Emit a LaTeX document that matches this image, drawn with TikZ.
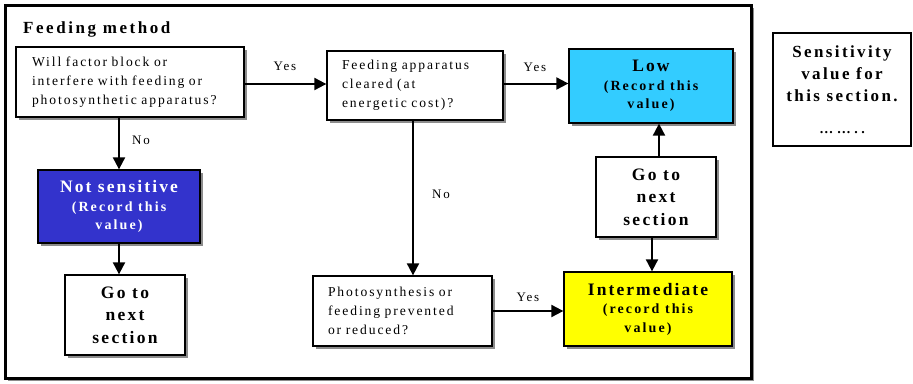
\documentclass[tikz,border=0pt]{standalone}
\usepackage{fontspec}
\setmainfont{Liberation Serif}[LetterSpace=18]
\newfontfamily\qfont{Liberation Serif}[LetterSpace=14, WordSpace=3.5]
\usetikzlibrary{arrows.meta,shadows}
\definecolor{nsblue}{HTML}{3333CC}
\definecolor{lowcyan}{HTML}{33CCFF}
\definecolor{midyellow}{HTML}{FFFF00}
\definecolor{shade}{HTML}{8C8C8C}
\newcommand{\headline}[1]{{\addfontfeature{LetterSpace=12}\fontsize{17.5}{18.5}\selectfont #1}}
\tikzset{
  box/.style={draw=black, line width=1.3pt, fill=white, rectangle,
    drop shadow={shadow xshift=3pt, shadow yshift=-3pt, fill=shade, opacity=1},
    inner sep=0pt},
  question/.style={box, align=left, font=\qfont\fontsize{13.6}{19}\selectfont},
  result/.style={box, align=center, font=\bfseries\addfontfeature{LetterSpace=15}\fontsize{14}{18.5}\selectfont},
  gobox/.style={box, align=center, font=\bfseries\addfontfeature{LetterSpace=13}\fontsize{17.5}{22.5}\selectfont},
  flow/.style={line width=2pt, -{Triangle[length=12pt,width=12pt]}},
  answer/.style={font=\qfont\fontsize{13}{15}\selectfont, inner sep=0pt},
}
\begin{document}
\begin{tikzpicture}[x=1pt, y=-1pt]
\useasboundingbox (0,0) rectangle (913,383);
% outer frame of the section
\node[draw=black, line width=2.6pt, fill=white, minimum width=746pt, minimum height=373pt,
  drop shadow={shadow xshift=2.5pt, shadow yshift=-2.5pt, fill=shade, opacity=1},
  inner sep=0pt] (frame) at (378.5,192) {};
\node[anchor=base west, font=\bfseries\addfontfeature{LetterSpace=15}\fontsize{17}{19}\selectfont, inner sep=0pt] (title) at (23,33) {Feeding method};

% question boxes
\node[question, minimum width=228pt, minimum height=70pt, text width=196pt] (q1) at (130,82)
  {Will factor block or\\ interfere with feeding or\\ photosynthetic apparatus?};
\node[question, minimum width=176pt, minimum height=69pt, text width=146pt] (q2) at (415,85.5)
  {Feeding apparatus\\ cleared (at\\ energetic cost)?};
\node[question, minimum width=179pt, minimum height=70pt, text width=149pt] (q3) at (402.5,311)
  {Photosynthesis or\\ feeding prevented\\ or reduced?};

% result boxes
\node[result, fill=nsblue, text=white, minimum width=162pt, minimum height=73pt] (ns) at (119,206.5)
  {\headline{Not sensitive}\\ (Record this\\ value)};
\node[result, fill=lowcyan, minimum width=164pt, minimum height=74pt] (low) at (651,86)
  {\headline{Low}\\ (Record this\\ value)};
\node[result, fill=midyellow, minimum width=168pt, minimum height=74pt] (mid) at (648,309)
  {\headline{Intermediate}\\ (record this\\ value)};

% exits
\node[gobox, minimum width=120pt, minimum height=80pt] (goL) at (125,315) {Go to\\ next\\ section};
\node[gobox, minimum width=120pt, minimum height=80pt] (goR) at (656,197) {Go to\\ next\\ section};

% score box beside the frame
\node[draw=black, line width=1.3pt, fill=white, minimum width=138pt, minimum height=113pt,
  inner sep=0pt, align=center, font=\bfseries\addfontfeature{LetterSpace=14}\fontsize{17}{22}\selectfont] (score) at (842,89.5)
  {Sensitivity\\ value for\\ this section.\\[10pt] {\addfontfeature{LetterSpace=25}\fontsize{14}{14}\selectfont ……..}};

% connectors
\draw[flow] ([yshift=-2pt]q1.east) -- ([yshift=-2pt]q1.east -| q2.west);
\draw[flow] ([yshift=2pt]q2.east) -- ([yshift=2pt]q2.east -| low.west);
\draw[flow] (q1.south -| ns.north) -- (ns.north);
\draw[flow] (ns.south) -- (ns.south |- goL.north);
\draw[flow] ([xshift=-2pt]q2.south) -- ([xshift=-2pt]q2.south |- q3.north);
\draw[flow] (q3.east) -- (q3.east -| mid.west);
\draw[flow] ([xshift=3pt]goR.north) -- ([xshift=3pt]goR.north |- low.south);
\draw[flow] ([xshift=-4pt]goR.south) -- ([xshift=-4pt]goR.south |- mid.north);

% answers on the connectors
\node[answer] (yes1) at (285,66) {Yes};
\node[answer] (yes2) at (535,67) {Yes};
\node[answer] (yes3) at (528,297) {Yes};
\node[answer] (no1) at (141,140) {No};
\node[answer] (no2) at (441,194) {No};
\end{tikzpicture}
\end{document}
